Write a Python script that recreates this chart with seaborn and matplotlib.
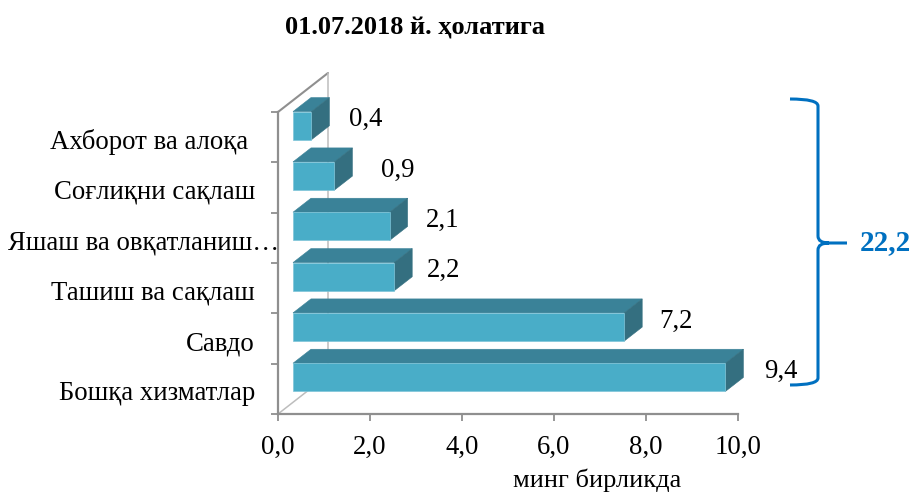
import matplotlib
matplotlib.use("Agg")
import matplotlib.pyplot as plt
import seaborn as sns
import pandas as pd
from matplotlib.patches import Polygon, PathPatch
from matplotlib.path import Path
from matplotlib.transforms import Affine2D, IdentityTransform

categories = ["Ахборот ва алоқа ", "Соғлиқни сақлаш", "Яшаш ва овқатланиш…",
              "Ташиш ва сақлаш", "Савдо", "Бошқа хизматлар"]
values = [0.4, 0.9, 2.1, 2.2, 7.2, 9.4]
value_labels = ["0,4", "0,9", "2,1", "2,2", "7,2", "9,4"]
x_ticks = [0, 2, 4, 6, 8, 10]
x_tick_labels = ["0,0", "2,0", "4,0", "6,0", "8,0", "10,0"]
title = "01.07.2018 й. ҳолатига"
unit_label = "минг бирликда"
total_label = "22,2"

W, H = 912, 493
sns.set_style("white")
plt.rcParams["font.family"] = ["Liberation Serif", "DejaVu Serif"]

FRONT, TOP, SIDE = "#49ADC8", "#3A8298", "#346F80"
GREY, LIGHT, BLUE = "#8F8F8F", "#BDBDBD", "#0070C0"
FS = 19.3

fig = plt.figure(figsize=(W / 100, H / 100), dpi=100, facecolor="white")
ax = fig.add_axes([278 / W, 1 - 414 / H, 460 / W, 302 / H])
df = pd.DataFrame({"cat": categories, "val": values})
sns.barplot(data=df, y="cat", x="val", orient="y", color=FRONT, saturation=1,
            width=0.56, ax=ax, edgecolor="#7FC4D8", linewidth=0.5, zorder=5)
ax.set_xlim(0, 10)
ax.set_ylim(5.5, -0.5)
ax.set_xlabel("")
ax.set_ylabel("")
ax.patch.set_alpha(0)

for s in ("top", "right"):
    ax.spines[s].set_visible(False)
for s in ("left", "bottom"):
    ax.spines[s].set_color(GREY)
    ax.spines[s].set_linewidth(1.6)

ax.set_xticks(x_ticks)
ax.set_xticklabels(x_tick_labels, fontsize=FS, color="black")
ax.tick_params(axis="x", length=5, width=1.3, color=GREY, pad=10, bottom=True)
ax.set_yticks([i - 0.5 for i in range(len(categories) + 1)])
ax.set_yticklabels([])
ax.set_yticks(range(len(categories)), labels=categories, minor=True, fontsize=FS, color="black")
ax.tick_params(axis="y", which="major", length=5, width=1.3, color=GREY, left=True)
ax.tick_params(axis="y", which="minor", length=0, pad=16.5, labelcolor="black")
label_shift_x = [0, 0, 24, 0, 0, 0]
for lab, sx in zip(ax.get_yticklabels(minor=True), label_shift_x):
    lab.set_transform(lab.get_transform() + Affine2D().translate(sx, -2))

# pixel-space depth of the pseudo-3D look
BAR_SHIFT = (15, 11.5)
BAR_DEPTH = (18, 14)
WALL = (50, 39)
px = IdentityTransform()

# back wall and floor, behind the bars
p0 = ax.transData.transform((0, -0.5))
p1 = ax.transData.transform((0, 5.5))
wall_top = (p0[0] + WALL[0], p0[1] + WALL[1])
wall_bot = (p1[0] + WALL[0], p1[1] + WALL[1])
for a, b, col, lw in [(p0, wall_top, GREY, 1.5), (wall_top, wall_bot, LIGHT, 1.1), (p1, wall_bot, LIGHT, 1.1)]:
    ax.add_line(plt.Line2D([a[0], b[0]], [a[1], b[1]], color=col, lw=lw, transform=px, zorder=1, clip_on=False))

label_gap = [38, 47, 36, 33, 35, 39]
for patch, lab, gap in zip(list(ax.patches), value_labels, label_gap):
    patch.set_transform(ax.transData + Affine2D().translate(*BAR_SHIFT))
    patch.set_clip_on(False)
    x, y, w, h = patch.get_x(), patch.get_y(), patch.get_width(), patch.get_height()
    (x0, y1), (x1, y0) = ax.transData.transform([(x, y), (x + w, y + h)])
    x0, x1 = x0 + BAR_SHIFT[0], x1 + BAR_SHIFT[0]
    y0, y1 = y0 + BAR_SHIFT[1], y1 + BAR_SHIFT[1]
    dx, dy = BAR_DEPTH
    ax.add_patch(Polygon([(x0, y1), (x1, y1), (x1 + dx, y1 + dy), (x0 + dx, y1 + dy)], closed=True,
                         facecolor=TOP, edgecolor=TOP, lw=0.4, transform=px, clip_on=False, zorder=4))
    ax.add_patch(Polygon([(x1, y0), (x1, y1), (x1 + dx, y1 + dy), (x1 + dx, y0 + dy)], closed=True,
                         facecolor=SIDE, edgecolor=SIDE, lw=0.4, transform=px, clip_on=False, zorder=4))
    fig.text((x1 + gap) / W, ((y0 + y1) / 2 + 6) / H, lab, fontsize=FS, color="black",
             ha="left", va="center", zorder=6)

fig.text(415 / W, 1 - 28 / H, title, fontsize=19, fontweight="bold", ha="center", va="center", color="black")
fig.text(597 / W, 1 - 480 / H, unit_label, fontsize=19, ha="center", va="center", color="black")
fig.text(885 / W, 1 - 243 / H, total_label, fontsize=21, fontweight="bold", ha="center", va="center", color=BLUE)

# curly brace around all the bars
def Y(v):
    return H - v
verts = [(790, Y(99)), (818, Y(99)), (818, Y(106)),
         (818, Y(236)), (818, Y(243)), (829, Y(243)),
         (847, Y(243)),
         (829, Y(243)), (818, Y(243)), (818, Y(250)),
         (818, Y(378)), (818, Y(385)), (790, Y(385))]
codes = [Path.MOVETO, Path.CURVE3, Path.CURVE3,
         Path.LINETO, Path.CURVE3, Path.CURVE3,
         Path.LINETO,
         Path.MOVETO, Path.CURVE3, Path.CURVE3,
         Path.LINETO, Path.CURVE3, Path.CURVE3]
fig.add_artist(PathPatch(Path(verts, codes), facecolor="none", edgecolor=BLUE, lw=2.2, transform=px))

fig.savefig("out.png", dpi=100, facecolor="white")
